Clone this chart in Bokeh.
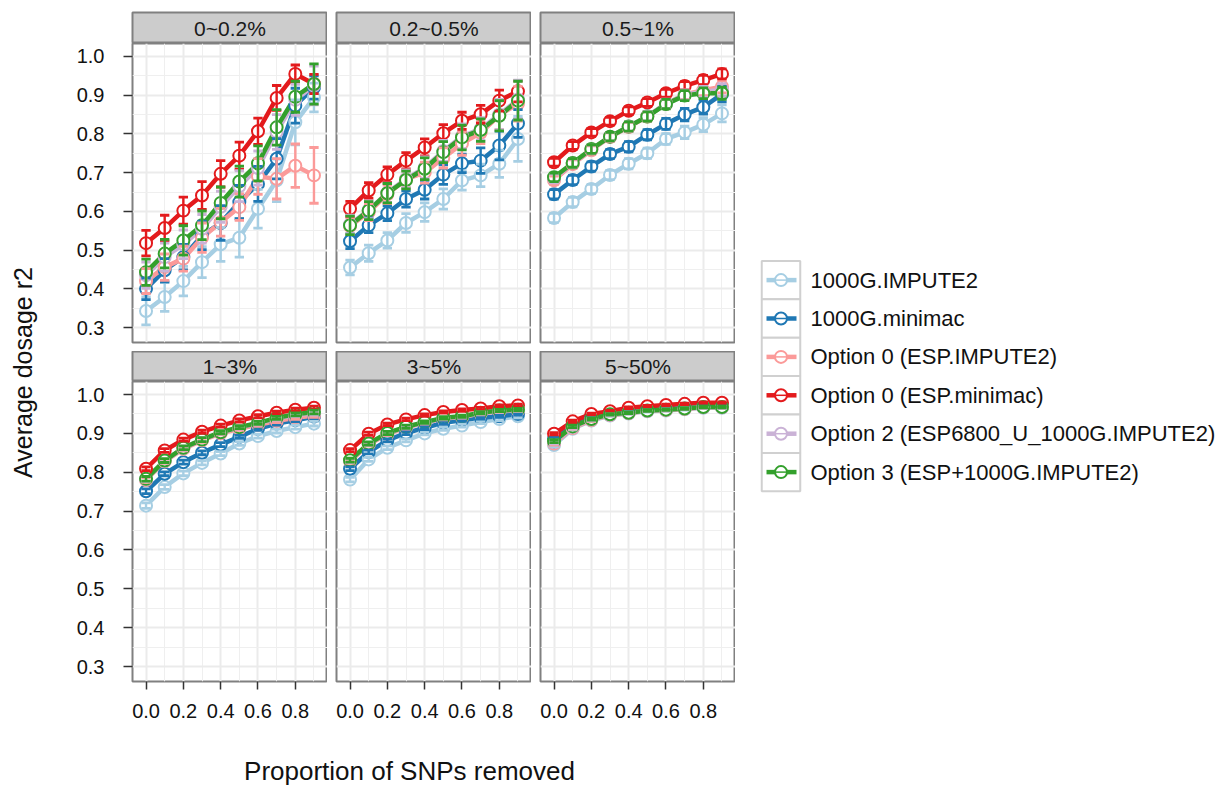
from bokeh.plotting import figure
from bokeh.layouts import row, column
from bokeh.models import Range1d, FixedTicker, Label, ColumnDataSource, PrintfTickFormatter
from bokeh.embed import file_html
from bokeh.resources import INLINE
from bokeh.core.properties import value

FONT = "Liberation Sans"

# ---------------- data ----------------
proportion = [0.0, 0.1, 0.2, 0.3, 0.4, 0.5, 0.6, 0.7, 0.8, 0.9]
series_names = ["1000G.IMPUTE2", "1000G.minimac", "Option 0 (ESP.IMPUTE2)",
                "Option 0 (ESP.minimac)", "Option 2 (ESP6800_U_1000G.IMPUTE2)",
                "Option 3 (ESP+1000G.IMPUTE2)"]
series_colors = ["#A6CEE3", "#1F78B4", "#FB9A99", "#E31A1C", "#CAB2D6", "#33A02C"]
panel_titles = ["0~0.2%", "0.2~0.5%", "0.5~1%", "1~3%", "3~5%", "5~50%"]
x_ticks = [0.0, 0.2, 0.4, 0.6, 0.8]
x_minor = [0.1, 0.3, 0.5, 0.7, 0.9]
y_ticks = [0.3, 0.4, 0.5, 0.6, 0.7, 0.8, 0.9, 1.0]
y_minor = [0.35, 0.45, 0.55, 0.65, 0.75, 0.85, 0.95]

# panel 0~0.2%
p1_lb = [0.343, 0.379, 0.420, 0.469, 0.515, 0.532, 0.607, 0.680, 0.830, 0.894]
p1_db = [0.400, 0.448, 0.482, 0.538, 0.570, 0.624, 0.671, 0.736, 0.873, 0.920]
p1_pk = [0.420, 0.456, 0.478, 0.532, 0.572, 0.611, 0.690, 0.684, 0.718, 0.693]
p1_rd = [0.518, 0.557, 0.602, 0.641, 0.697, 0.744, 0.807, 0.893, 0.955, 0.929]
p1_pu = [0.435, 0.482, 0.515, 0.555, 0.612, 0.665, 0.712, 0.805, 0.888, 0.925]
p1_gr = [0.443, 0.491, 0.525, 0.564, 0.622, 0.677, 0.724, 0.817, 0.896, 0.929]
p1_lb_err = [0.036, 0.037, 0.038, 0.040, 0.044, 0.050, 0.050, 0.055, 0.058, 0.037]
p1_db_err = [0.028, 0.030, 0.033, 0.037, 0.045, 0.043, 0.045, 0.052, 0.045, 0.030]
p1_pk_err = [0.032, 0.034, 0.032, 0.038, 0.036, 0.034, 0.046, 0.052, 0.056, 0.072]
p1_rd_err = [0.033, 0.033, 0.035, 0.036, 0.034, 0.035, 0.034, 0.032, 0.023, 0.025]
p1_pu_err = [0.034, 0.036, 0.037, 0.037, 0.040, 0.040, 0.044, 0.045, 0.040, 0.050]
p1_gr_err = [0.034, 0.037, 0.038, 0.037, 0.041, 0.040, 0.045, 0.046, 0.040, 0.052]

# panel 0.2~0.5%
p2_lb = [0.455, 0.492, 0.525, 0.570, 0.598, 0.632, 0.680, 0.693, 0.723, 0.787]
p2_db = [0.523, 0.564, 0.595, 0.632, 0.656, 0.695, 0.724, 0.731, 0.770, 0.827]
p2_pk = [0.562, 0.598, 0.644, 0.683, 0.700, 0.738, 0.775, 0.803, 0.848, 0.878]
p2_rd = [0.607, 0.654, 0.695, 0.731, 0.765, 0.802, 0.834, 0.851, 0.886, 0.910]
p2_pu = [0.566, 0.604, 0.648, 0.684, 0.713, 0.756, 0.794, 0.813, 0.850, 0.889]
p2_gr = [0.564, 0.602, 0.647, 0.681, 0.710, 0.753, 0.791, 0.810, 0.847, 0.886]
p2_lb_err = [0.019, 0.021, 0.020, 0.024, 0.024, 0.026, 0.025, 0.029, 0.035, 0.058]
p2_db_err = [0.019, 0.019, 0.019, 0.021, 0.024, 0.025, 0.024, 0.033, 0.037, 0.036]
p2_pk_err = [0.022, 0.022, 0.024, 0.022, 0.027, 0.026, 0.030, 0.028, 0.037, 0.045]
p2_rd_err = [0.019, 0.020, 0.020, 0.021, 0.022, 0.022, 0.022, 0.023, 0.027, 0.027]
p2_pu_err = [0.024, 0.023, 0.025, 0.023, 0.028, 0.027, 0.032, 0.029, 0.039, 0.050]
p2_gr_err = [0.024, 0.023, 0.025, 0.023, 0.028, 0.027, 0.032, 0.029, 0.039, 0.050]

# panel 0.5~1%
p3_lb = [0.583, 0.624, 0.658, 0.694, 0.723, 0.750, 0.787, 0.804, 0.824, 0.853]
p3_db = [0.644, 0.681, 0.716, 0.748, 0.767, 0.798, 0.826, 0.850, 0.869, 0.903]
p3_pk = [0.680, 0.722, 0.758, 0.792, 0.818, 0.845, 0.878, 0.902, 0.913, 0.922]
p3_rd = [0.727, 0.770, 0.804, 0.833, 0.860, 0.881, 0.905, 0.924, 0.939, 0.955]
p3_pu = [0.685, 0.724, 0.760, 0.793, 0.819, 0.846, 0.878, 0.901, 0.909, 0.914]
p3_gr = [0.688, 0.725, 0.761, 0.793, 0.819, 0.845, 0.877, 0.899, 0.905, 0.905]
p3_lb_err = [0.012, 0.012, 0.012, 0.012, 0.013, 0.013, 0.014, 0.016, 0.018, 0.022]
p3_db_err = [0.012, 0.012, 0.012, 0.012, 0.013, 0.013, 0.014, 0.016, 0.018, 0.020]
p3_pk_err = [0.011, 0.011, 0.011, 0.011, 0.012, 0.012, 0.012, 0.013, 0.014, 0.016]
p3_rd_err = [0.010, 0.010, 0.010, 0.010, 0.010, 0.010, 0.010, 0.011, 0.012, 0.013]
p3_pu_err = [0.011, 0.011, 0.011, 0.011, 0.012, 0.012, 0.012, 0.013, 0.014, 0.016]
p3_gr_err = [0.011, 0.011, 0.011, 0.011, 0.012, 0.012, 0.012, 0.013, 0.014, 0.016]

# panel 1~3%
p4_lb = [0.714, 0.762, 0.797, 0.824, 0.848, 0.874, 0.893, 0.906, 0.916, 0.925]
p4_db = [0.751, 0.796, 0.826, 0.850, 0.871, 0.891, 0.912, 0.925, 0.934, 0.943]
p4_pk = [0.780, 0.828, 0.860, 0.882, 0.900, 0.912, 0.922, 0.932, 0.940, 0.946]
p4_rd = [0.809, 0.856, 0.884, 0.904, 0.920, 0.933, 0.944, 0.953, 0.961, 0.966]
p4_pu = [0.782, 0.829, 0.862, 0.884, 0.902, 0.915, 0.926, 0.938, 0.947, 0.952]
p4_gr = [0.783, 0.830, 0.863, 0.884, 0.903, 0.916, 0.927, 0.940, 0.949, 0.955]
p4_lb_err = [0.007, 0.006, 0.006, 0.005, 0.005, 0.005, 0.005, 0.005, 0.005, 0.006]
p4_db_err = [0.006, 0.005, 0.005, 0.005, 0.005, 0.004, 0.004, 0.004, 0.004, 0.005]
p4_pk_err = [0.006, 0.005, 0.005, 0.005, 0.004, 0.004, 0.004, 0.004, 0.004, 0.005]
p4_rd_err = [0.005, 0.005, 0.004, 0.004, 0.004, 0.004, 0.004, 0.004, 0.004, 0.004]
p4_pu_err = [0.006, 0.005, 0.005, 0.005, 0.004, 0.004, 0.004, 0.004, 0.004, 0.005]
p4_gr_err = [0.006, 0.005, 0.005, 0.005, 0.004, 0.004, 0.004, 0.004, 0.004, 0.005]

# panel 3~5%
p5_lb = [0.781, 0.833, 0.863, 0.882, 0.900, 0.912, 0.920, 0.929, 0.937, 0.944]
p5_db = [0.809, 0.852, 0.882, 0.901, 0.914, 0.927, 0.934, 0.940, 0.944, 0.950]
p5_pk = [0.828, 0.871, 0.898, 0.915, 0.927, 0.938, 0.942, 0.951, 0.957, 0.959]
p5_rd = [0.857, 0.899, 0.923, 0.936, 0.947, 0.955, 0.960, 0.964, 0.970, 0.972]
p5_pu = [0.830, 0.873, 0.900, 0.916, 0.928, 0.939, 0.943, 0.952, 0.958, 0.960]
p5_gr = [0.831, 0.874, 0.901, 0.917, 0.929, 0.940, 0.944, 0.953, 0.959, 0.961]
p5_lb_err = [0.006, 0.005, 0.005, 0.004, 0.004, 0.004, 0.004, 0.004, 0.004, 0.004]
p5_db_err = [0.005, 0.005, 0.004, 0.004, 0.004, 0.004, 0.003, 0.003, 0.003, 0.003]
p5_pk_err = [0.005, 0.004, 0.004, 0.004, 0.003, 0.003, 0.003, 0.003, 0.003, 0.003]
p5_rd_err = [0.004, 0.004, 0.003, 0.003, 0.003, 0.003, 0.003, 0.003, 0.003, 0.003]
p5_pu_err = [0.005, 0.004, 0.004, 0.004, 0.003, 0.003, 0.003, 0.003, 0.003, 0.003]
p5_gr_err = [0.005, 0.004, 0.004, 0.004, 0.003, 0.003, 0.003, 0.003, 0.003, 0.003]

# panel 5~50%
p6_lb = [0.870, 0.912, 0.933, 0.946, 0.951, 0.957, 0.959, 0.962, 0.966, 0.966]
p6_db = [0.886, 0.922, 0.941, 0.951, 0.957, 0.962, 0.965, 0.968, 0.971, 0.972]
p6_pk = [0.874, 0.914, 0.934, 0.947, 0.952, 0.958, 0.960, 0.963, 0.967, 0.967]
p6_rd = [0.899, 0.931, 0.950, 0.957, 0.966, 0.970, 0.973, 0.976, 0.979, 0.979]
p6_pu = [0.877, 0.916, 0.936, 0.948, 0.953, 0.958, 0.961, 0.964, 0.967, 0.967]
p6_gr = [0.880, 0.918, 0.937, 0.949, 0.953, 0.959, 0.961, 0.964, 0.968, 0.968]
p6_lb_err = [0.004, 0.003, 0.003, 0.002, 0.002, 0.002, 0.002, 0.002, 0.002, 0.002]
p6_db_err = [0.004, 0.003, 0.003, 0.002, 0.002, 0.002, 0.002, 0.002, 0.002, 0.002]
p6_pk_err = [0.004, 0.003, 0.003, 0.002, 0.002, 0.002, 0.002, 0.002, 0.002, 0.002]
p6_rd_err = [0.003, 0.003, 0.002, 0.002, 0.002, 0.002, 0.002, 0.002, 0.002, 0.002]
p6_pu_err = [0.004, 0.003, 0.003, 0.002, 0.002, 0.002, 0.002, 0.002, 0.002, 0.002]
p6_gr_err = [0.004, 0.003, 0.003, 0.002, 0.002, 0.002, 0.002, 0.002, 0.002, 0.002]

panel_means = [
    [p1_lb, p1_db, p1_pk, p1_rd, p1_pu, p1_gr],
    [p2_lb, p2_db, p2_pk, p2_rd, p2_pu, p2_gr],
    [p3_lb, p3_db, p3_pk, p3_rd, p3_pu, p3_gr],
    [p4_lb, p4_db, p4_pk, p4_rd, p4_pu, p4_gr],
    [p5_lb, p5_db, p5_pk, p5_rd, p5_pu, p5_gr],
    [p6_lb, p6_db, p6_pk, p6_rd, p6_pu, p6_gr],
]
panel_errs = [
    [p1_lb_err, p1_db_err, p1_pk_err, p1_rd_err, p1_pu_err, p1_gr_err],
    [p2_lb_err, p2_db_err, p2_pk_err, p2_rd_err, p2_pu_err, p2_gr_err],
    [p3_lb_err, p3_db_err, p3_pk_err, p3_rd_err, p3_pu_err, p3_gr_err],
    [p4_lb_err, p4_db_err, p4_pk_err, p4_rd_err, p4_pu_err, p4_gr_err],
    [p5_lb_err, p5_db_err, p5_pk_err, p5_rd_err, p5_pu_err, p5_gr_err],
    [p6_lb_err, p6_db_err, p6_pk_err, p6_rd_err, p6_pu_err, p6_gr_err],
]

# ---------------- layout constants ----------------
FRAME_W = 195
LEFT0 = 72
GAP = 9
YT_W = 60
XR = (-0.0725, 0.9725)
YR = (0.2615, 1.0335)
CAP = 0.025
GRID_MAJOR = "#EBEBEB"
BORDER = "#808080"
BOT_AXIS = 48


def blank(width, height, xr, yr):
    p = figure(width=width, height=height, x_range=Range1d(*xr), y_range=Range1d(*yr),
               x_axis_location=None, y_axis_location=None, min_border=0,
               output_backend="svg", toolbar_location=None)
    p.grid.visible = False
    p.outline_line_color = None
    return p


def strip(k, top_border, frame_h):
    c = k % 3
    left = LEFT0 if c == 0 else GAP
    p = figure(width=left + FRAME_W, height=frame_h + top_border,
               x_range=Range1d(0, 1), y_range=Range1d(0, 1),
               x_axis_location=None, y_axis_location=None,
               min_border_left=left, min_border_right=0, min_border_top=top_border,
               min_border_bottom=0, output_backend="svg", toolbar_location=None)
    p.grid.visible = False
    p.background_fill_color = "#CCCCCC"
    p.outline_line_color = BORDER
    p.outline_line_width = 2
    p.add_layout(Label(x=0.5, y=0.5, text=panel_titles[k], text_align="center",
                       text_baseline="middle", text_font=FONT, text_font_size="21px",
                       text_color="#1A1A1A"))
    return p


def panel(k):
    r, c = divmod(k, 3)
    left = LEFT0 if c == 0 else GAP
    bottom = GAP if r == 0 else BOT_AXIS
    frame_h = 299 if r == 0 else 300
    p = figure(width=left + FRAME_W, height=frame_h + bottom,
               x_range=Range1d(*XR), y_range=Range1d(*YR),
               x_axis_location="below" if r == 1 else None,
               y_axis_location="left" if c == 0 else None,
               min_border_left=left, min_border_right=0, min_border_top=0,
               min_border_bottom=bottom, output_backend="svg", toolbar_location=None)
    p.background_fill_color = "white"
    p.outline_line_color = BORDER
    p.outline_line_width = 2
    p.xgrid.ticker = FixedTicker(ticks=x_ticks, minor_ticks=x_minor)
    p.ygrid.ticker = FixedTicker(ticks=y_ticks, minor_ticks=y_minor)
    p.grid.grid_line_color = GRID_MAJOR
    p.grid.grid_line_width = 2
    p.grid.minor_grid_line_color = "#EFEFEF"
    p.grid.minor_grid_line_width = 1
    for ax in p.axis:
        ax.axis_line_color = None
        ax.major_tick_line_color = "#333333"
        ax.major_tick_line_width = 1.5
        ax.major_tick_in = 0
        ax.minor_tick_line_color = None
        ax.major_label_text_font = FONT
        ax.major_label_text_font_size = "20px"
        ax.major_label_text_color = "#111111"
        ax.formatter = PrintfTickFormatter(format="%.1f")
    if r == 1:
        p.xaxis.ticker = FixedTicker(ticks=x_ticks)
        p.xaxis.major_tick_out = 8
        p.xaxis.major_label_standoff = 14
    if c == 0:
        p.yaxis.ticker = FixedTicker(ticks=y_ticks)
        p.yaxis.major_tick_out = 9
        p.yaxis.major_label_standoff = 19

    sources = []
    for mean, err in zip(panel_means[k], panel_errs[k]):
        lo = [m - e for m, e in zip(mean, err)]
        hi = [m + e for m, e in zip(mean, err)]
        sources.append(ColumnDataSource(dict(
            x=proportion, y=mean, lo=lo, hi=hi,
            xl=[x - CAP for x in proportion], xr=[x + CAP for x in proportion])))
    for src, col in zip(sources, series_colors):
        p.line("x", "y", source=src, line_color=col, line_width=4.5, line_join="round")
    for src, col in zip(sources, series_colors):
        p.scatter("x", "y", source=src, size=12, fill_color="white", line_color=col,
                  line_width=2)
    for src, col in zip(sources, series_colors):
        p.segment("x", "lo", "x", "hi", source=src, line_color=col, line_width=2.4)
        p.segment("xl", "lo", "xr", "lo", source=src, line_color=col, line_width=2.8)
        p.segment("xl", "hi", "xr", "hi", source=src, line_color=col, line_width=2.8)
    return p


strips_top = [strip(k, 12, 31) for k in range(3)]
panels_top = [panel(k) for k in range(3)]
strips_bot = [strip(k, 0, 30) for k in range(3, 6)]
panels_bot = [panel(k) for k in range(3, 6)]

GRID_W = LEFT0 + FRAME_W + 2 * (GAP + FRAME_W)
XT_H = 58
TOTAL_H = 43 + 308 + 30 + 300 + BOT_AXIS + XT_H

xtitle = blank(GRID_W, XT_H, (0, GRID_W), (XT_H, 0))
xtitle.add_layout(Label(x=409 - YT_W, y=41, text="Proportion of SNPs removed",
                        text_align="center", text_baseline="middle", text_font=FONT,
                        text_font_size="26px", text_color="#111111"))

ytitle = blank(YT_W, TOTAL_H, (0, YT_W), (TOTAL_H, 0))
ytitle.add_layout(Label(x=22, y=372, text="Average dosage r2", text_align="center",
                        text_baseline="middle", angle=90, angle_units="deg",
                        text_font=FONT, text_font_size="25px", text_color="#111111"))

LEG_W = 1216 - YT_W - GRID_W
leg = blank(LEG_W, TOTAL_H, (0, LEG_W), (TOTAL_H, 0))
leg_y = [279.6 + 38.4 * i for i in range(len(series_names))]
leg_src = ColumnDataSource(dict(
    y=leg_y, name=series_names, color=series_colors,
    kx=[45.5] * 6, x0=[31] * 6, x1=[61] * 6, c0=[40] * 6, c1=[51] * 6, tx=[75] * 6))
leg.rect("kx", "y", width=38.5, height=38.4, source=leg_src, fill_color="white",
         line_color="#D0D0D0", line_width=2)
leg.segment("x0", "y", "x1", "y", source=leg_src, line_color="color", line_width=4.5)
leg.scatter("kx", "y", source=leg_src, size=12, fill_color="white", line_color="color",
            line_width=2)
leg.segment("c0", "y", "c1", "y", source=leg_src, line_color="color", line_width=1.5)
leg.text("tx", "y", text="name", source=leg_src, text_font=value(FONT),
         text_font_size=value("22px"), text_baseline="middle", text_align="left",
         text_color="#111111")

grid_col = column(row(*strips_top), row(*panels_top), row(*strips_bot), row(*panels_bot),
                  xtitle)
layout = row(ytitle, grid_col, leg)

open("out.html", "w").write(file_html(layout, INLINE))
